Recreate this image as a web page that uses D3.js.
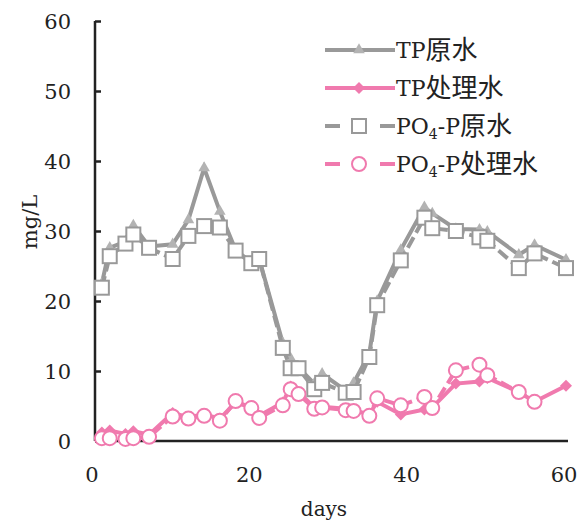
<!DOCTYPE html>
<html><head><meta charset="utf-8">
<script src="https://cdn.jsdelivr.net/npm/d3@7"></script>
<style>body{margin:0;background:#fff}svg{display:block}</style>
</head><body>
<script>
const days = [1,2,4,5,7,10,12,14,16,18,20,21,24,25,26,28,29,32,33,35,36,39,42,43,46,49,50,54,56,60];
const tpRaw = [22.5,27.6,28.5,30.8,27.8,28.1,31.6,39.0,32.8,27.3,25.5,26.0,14.0,11.8,10.5,8.2,9.6,7.2,8.3,12.5,20.0,27.3,33.4,32.5,30.3,30.2,29.9,26.6,28.0,25.9];
const tpTreated = [1.2,1.5,1.0,1.4,0.9,4.0,3.4,3.8,3.2,5.5,4.8,3.6,5.5,7.8,7.0,4.8,4.9,4.6,4.4,3.8,5.6,3.8,4.5,4.8,8.2,8.5,9.0,7.0,5.6,7.9];
const po4Raw = [21.9,26.4,28.2,29.5,27.6,26.0,29.3,30.7,30.5,27.2,25.4,26.0,13.3,10.4,10.4,7.4,8.3,6.9,7.0,12.0,19.4,25.8,31.9,30.4,30.0,29.1,28.6,24.7,26.8,24.7];
const po4Treated = [0.4,0.4,0.3,0.4,0.6,3.5,3.2,3.6,2.9,5.7,4.7,3.3,5.1,7.4,6.7,4.6,4.8,4.4,4.3,3.6,6.1,5.1,6.3,4.7,10.1,10.9,9.4,7.0,5.6,null];
const xTicks = [0,20,40,60];
const yTicks = [0,10,20,30,40,50,60];
const seriesNames = ["TP原水","TP处理水","PO4-P原水","PO4-P处理水"];

const W=587,H=522;
const GRAY="#999999", GRAYF="#b3b3b3", PINK="#f07aae";
const FONT="'DejaVu Serif','Noto Sans CJK SC',serif";
const CJK="'Noto Sans CJK SC',sans-serif";
const svg=d3.select("body").append("svg").attr("width",W).attr("height",H);
const x=d3.scaleLinear().domain([0,60]).range([94,566]);
const y=d3.scaleLinear().domain([0,60]).range([441,21]);

// axes
const yAxis=svg.append("g").attr("transform","translate(95,0)")
  .call(d3.axisRight(y).tickValues(yTicks).tickSize(6).tickFormat(""));
yAxis.select(".domain").attr("d","M0,21V441").attr("stroke","#222").attr("stroke-width",2.5);
yAxis.selectAll(".tick line").attr("stroke","#222").attr("stroke-width",2.5);
svg.append("g").selectAll("text").data(yTicks).join("text")
  .attr("x",71).attr("y",d=>y(d)).attr("dy","0.36em").attr("text-anchor","end")
  .attr("font-family",FONT).attr("font-size",21).attr("fill","#222").text(d=>d);
const xAxis=svg.append("g").attr("transform","translate(0,441)")
  .call(d3.axisBottom(x).tickValues(xTicks).tickSize(0).tickFormat(""));
xAxis.select(".domain").attr("d","M95,0H568").attr("stroke","#222").attr("stroke-width",2.5);
svg.append("g").selectAll("text").data(xTicks).join("text")
  .attr("x",d=>x(d)-2).attr("y",474).attr("dy","0.36em").attr("text-anchor","middle")
  .attr("font-family",FONT).attr("font-size",21).attr("fill","#222").text(d=>d);
svg.append("text").attr("x",324).attr("y",509).attr("dy","0.36em").attr("text-anchor","middle")
  .attr("font-family",FONT).attr("font-size",20).attr("fill","#222").text("days");
svg.append("text").attr("transform","translate(29,222) rotate(-90)").attr("dy","0.36em").attr("text-anchor","middle")
  .attr("font-family",FONT).attr("font-size",21).attr("fill","#222").text("mg/L");

function pts(vals){return days.map((d,i)=>({d,v:vals[i]})).filter(p=>p.v!=null);}
const line=d3.line().x(p=>x(p.d)).y(p=>y(p.v));
const tri=d3.symbol().type(d3.symbolTriangle).size(58);
const dia=d3.symbol().type(d3.symbolSquare).size(72);

function drawLine(vals,color,dash){
  svg.append("path").datum(pts(vals)).attr("d",line).attr("fill","none")
    .attr("stroke",color).attr("stroke-width",4).attr("stroke-dasharray",dash||null);
}
function marker(sel,kind,cx,cy){
  if(kind==="tri") sel.append("path").attr("d",tri).attr("transform",`translate(${cx},${cy})`).attr("fill",GRAYF);
  if(kind==="dia") sel.append("path").attr("d",dia).attr("transform",`translate(${cx},${cy}) rotate(45)`).attr("fill",PINK);
  if(kind==="sq") sel.append("rect").attr("x",cx-7).attr("y",cy-7).attr("width",14).attr("height",14)
    .attr("fill","#fff").attr("stroke",GRAY).attr("stroke-width",2);
  if(kind==="ci") sel.append("circle").attr("cx",cx).attr("cy",cy).attr("r",7)
    .attr("fill","#fff").attr("stroke",PINK).attr("stroke-width",2);
}
function drawMarkers(vals,kind){
  const g=svg.append("g");
  pts(vals).forEach(p=>marker(g,kind,x(p.d),y(p.v)));
}
drawLine(tpRaw,GRAY); drawMarkers(tpRaw,"tri");
drawLine(tpTreated,PINK); drawMarkers(tpTreated,"dia");
drawLine(po4Raw,GRAY,"12,5"); drawMarkers(po4Raw,"sq");
drawLine(po4Treated,PINK,"12,5"); drawMarkers(po4Treated,"ci");

// legend
const leg=[{c:GRAY,k:"tri",dash:false,name:seriesNames[0],y:50},
           {c:PINK,k:"dia",dash:false,name:seriesNames[1],y:88},
           {c:GRAY,k:"sq",dash:true,name:seriesNames[2],y:126},
           {c:PINK,k:"ci",dash:true,name:seriesNames[3],y:164}];
leg.forEach(l=>{
  const g=svg.append("g");
  if(l.dash){
    g.append("line").attr("x1",325).attr("x2",340).attr("y1",l.y).attr("y2",l.y).attr("stroke",l.c).attr("stroke-width",4);
    g.append("line").attr("x1",380).attr("x2",395).attr("y1",l.y).attr("y2",l.y).attr("stroke",l.c).attr("stroke-width",4);
  } else {
    g.append("line").attr("x1",325).attr("x2",395).attr("y1",l.y).attr("y2",l.y).attr("stroke",l.c).attr("stroke-width",4);
  }
  marker(g,l.k,359,l.y);
  const t=g.append("text").attr("x",396).attr("y",l.y+8)
    .attr("font-family",FONT).attr("font-size",22).attr("fill","#222");
  const m=l.name.match(/^([A-Za-z0-9\-]+)(.*)$/);
  const latin=m[1], cjk=m[2];
  if(latin.startsWith("PO4")){
    t.append("tspan").text("PO");
    t.append("tspan").attr("font-size",14).attr("dy",5).text("4");
    t.append("tspan").attr("dy",-5).text(latin.slice(3));
  } else t.append("tspan").text(latin);
  t.append("tspan").attr("font-family",CJK).attr("font-size",26).attr("dy",1).text(cjk);
});
</script>
</body></html>
